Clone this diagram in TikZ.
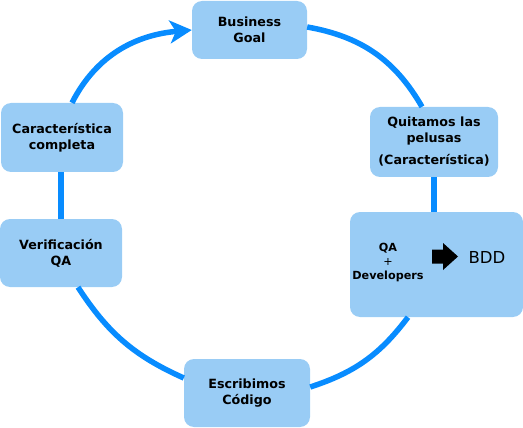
\documentclass[tikz,border=0pt]{standalone}
\usepackage{fontspec}
\setmainfont{DejaVu Sans}
\usetikzlibrary{arrows.meta,calc}
\definecolor{boxfill}{RGB}{153,204,245}
\definecolor{ring}{RGB}{8,140,255}
\begin{document}
\begin{tikzpicture}[x=1pt,y=-1pt,
  box/.style={fill=boxfill,rounded corners=10pt,inner sep=0pt,align=center,
    font=\fontsize{12.7}{16}\selectfont\bfseries},
  ringline/.style={draw=ring,line width=5.5pt},
  txt/.style={inner sep=0pt,align=center}]
\useasboundingbox (0,0) rectangle (523,428);
\node[box,minimum width=115pt,minimum height=58pt] (bg) at (249.5,30) {Business\\Goal};
\node[box,minimum width=128pt,minimum height=70pt] (q) at (434,142) {Quitamos las\\pelusas\\[6pt](Característica)};
\node[box,minimum width=173pt,minimum height=105pt] (bdd) at (436.5,264.5) {};
\node[box,minimum width=122pt,minimum height=69pt] (car) at (62,137.5) {Característica\\completa};
\node[box,minimum width=122pt,minimum height=68pt] (ver) at (61,253) {Verificación\\QA};
\node[box,minimum width=126pt,minimum height=68pt] (esc) at (247,393) {Escribimos\\Código};
% BDD box contents
\node[txt,font=\fontsize{11.2}{14}\selectfont\bfseries] (qadev) at (388,263) {QA\\{\mdseries +}\\Developers};
\node[txt,font=\fontsize{16.5}{18}\selectfont] (bddtxt) at (487,257) {BDD};
\fill[black] (432,249.5) -- (443,249.5) -- (443,243) -- (458,256.5) -- (443,270) -- (443,263.5) -- (432,263.5) -- cycle;
% ring
\draw[ringline] ([yshift=3pt]bg.east) to[out=-10,in=120] ([xshift=-12pt]q.north);
\draw[ringline] (q.south) -- (q.south |- bdd.north);
\draw[ringline] ([xshift=-28.5pt]bdd.south) to[out=-127,in=18] ([yshift=6pt]esc.east);
\draw[ringline] ([yshift=15pt]esc.west) to[out=156,in=-57] ([xshift=17pt]ver.south);
\draw[ringline] (ver.north) -- (ver.north |- car.south);
\draw[ringline,-{Stealth[length=22pt,width=23pt,inset=6pt]}] ([xshift=10pt]car.north) to[out=63,in=185] (bg.west);
\end{tikzpicture}
\end{document}
